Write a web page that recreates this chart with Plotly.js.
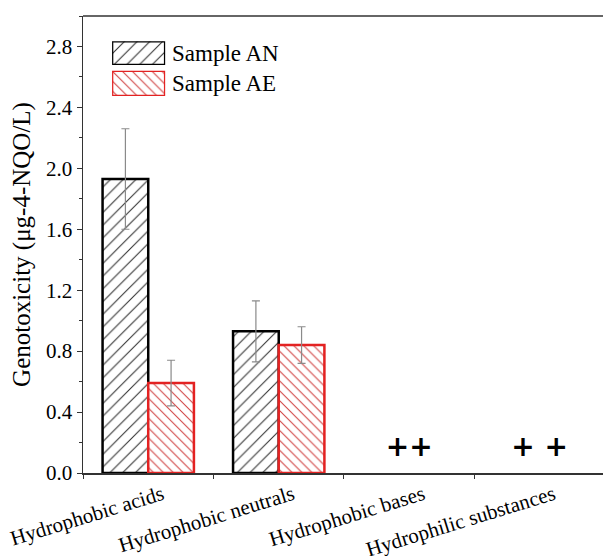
<!DOCTYPE html>
<html>
<head>
<meta charset="utf-8">
<script src="https://cdn.plot.ly/plotly-3.0.1.min.js"></script>
<style>html,body{margin:0;padding:0;background:#fff;}#chart{width:603px;height:556px;}</style>
</head>
<body>
<div id="chart"></div>
<script>
const categories = ["Hydrophobic acids", "Hydrophobic neutrals", "Hydrophobic bases", "Hydrophilic substances"];
const seriesNames = ["Sample AN", "Sample AE"];
const valuesAN = [1.93, 0.93, null, null];
const errAN = [0.33, 0.20, null, null];
const valuesAE = [0.59, 0.84, null, null];
const errAE = [0.15, 0.12, null, null];
const notDetectedCats = ["Hydrophobic bases", "Hydrophilic substances"];
const notDetectedLabels = ["++", "+ +"];
const notDetectedY = [0.16, 0.16];
const yTicks = [0.0, 0.4, 0.8, 1.2, 1.6, 2.0, 2.4, 2.8];

const serif = "Liberation Serif";
const red = "#e32222";

const traces = [
  {
    type: "bar", name: seriesNames[0], x: categories, y: valuesAN,
    marker: {color: "rgba(255,255,255,1)", line: {color: "#000", width: 2.5},
      pattern: {shape: "/", fgcolor: "#333", bgcolor: "#fff", size: 9, solidity: 0.12}},
    error_y: {type: "data", array: errAN, visible: true, color: "#8a8a8a", thickness: 1.2, width: 4},
    showlegend: false
  },
  {
    type: "bar", name: seriesNames[1], x: categories, y: valuesAE,
    marker: {color: "rgba(255,255,255,1)", line: {color: red, width: 2.5},
      pattern: {shape: "\\", fgcolor: "#d04040", bgcolor: "#fff", size: 7, solidity: 0.15}},
    error_y: {type: "data", array: errAE, visible: true, color: "#8a8a8a", thickness: 1.2, width: 4},
    showlegend: false
  },
  {
    type: "scatter", mode: "text", x: notDetectedCats, y: notDetectedY, text: notDetectedLabels,
    textfont: {family: "DejaVu Sans", size: 28, color: "#000", weight: "bold"},
    textposition: "middle center", showlegend: false, hoverinfo: "skip"
  },
  {
    type: "bar", x: [0], y: [1], xaxis: "x2", yaxis: "y2", width: [1],
    marker: {color: "#fff", line: {color: "#000", width: 2.5},
      pattern: {shape: "/", fgcolor: "#333", bgcolor: "#fff", size: 9, solidity: 0.12}},
    showlegend: false, hoverinfo: "skip"
  },
  {
    type: "bar", x: [0], y: [1], xaxis: "x3", yaxis: "y3", width: [1],
    marker: {color: "#fff", line: {color: red, width: 2.5},
      pattern: {shape: "\\", fgcolor: "#d04040", bgcolor: "#fff", size: 7, solidity: 0.15}},
    showlegend: false, hoverinfo: "skip"
  }
];

const hidden = {visible: false, fixedrange: true};
const layout = {
  width: 603, height: 556,
  margin: {l: 83, r: 0, t: 16, b: 83},
  paper_bgcolor: "#fff", plot_bgcolor: "#fff",
  font: {family: serif, color: "#000"},
  barmode: "group", bargap: 0.3, bargroupgap: 0,
  showlegend: false,
  xaxis: {
    type: "category", range: [-0.5, 3.485],
    showline: true, linecolor: "#333", linewidth: 1.5,
    ticks: "outside", tickson: "boundaries", ticklen: 4, tickcolor: "#333",
    tickangle: -17, ticklabelshift: 14, tickfont: {family: serif, size: 21, color: "#000"},
    showgrid: false, zeroline: false
  },
  yaxis: {
    range: [0, 3.0], tickvals: yTicks, ticktext: yTicks.map(v => v.toFixed(1)),
    showline: true, linecolor: "#333", linewidth: 1.5, mirror: false,
    ticks: "outside", ticklen: 5, tickcolor: "#333",
    minor: {dtick: 0.2, ticks: "outside", ticklen: 3, tickcolor: "#333", showgrid: false},
    tickfont: {family: serif, size: 21, color: "#000"},
    showgrid: false, zeroline: false,
    title: {text: "Genotoxicity (μg-4-NQO/L)", font: {family: serif, size: 25, color: "#000"}, standoff: 8}
  },
  xaxis2: Object.assign({domain: [0.0559, 0.158], range: [-0.5, 0.5], anchor: "y2"}, hidden),
  yaxis2: Object.assign({domain: [0.893, 0.945], range: [0, 1], anchor: "x2"}, hidden),
  xaxis3: Object.assign({domain: [0.0559, 0.158], range: [-0.5, 0.5], anchor: "y3"}, hidden),
  yaxis3: Object.assign({domain: [0.825, 0.880], range: [0, 1], anchor: "x3"}, hidden),
  shapes: [
    {type: "line", xref: "paper", yref: "paper", x0: 0, x1: 1, y0: 1, y1: 1, line: {color: "#333", width: 1.5}}
  ],
  annotations: [
    {xref: "paper", yref: "paper", x: 0.168, y: 0.919, xanchor: "left", yanchor: "middle", showarrow: false,
      text: seriesNames[0], font: {family: serif, size: 23, color: "#000"}},
    {xref: "paper", yref: "paper", x: 0.168, y: 0.852, xanchor: "left", yanchor: "middle", showarrow: false,
      text: seriesNames[1], font: {family: serif, size: 23, color: "#000"}}
  ]
};

Plotly.newPlot("chart", traces, layout, {displayModeBar: false, staticPlot: true});
</script>
</body>
</html>
